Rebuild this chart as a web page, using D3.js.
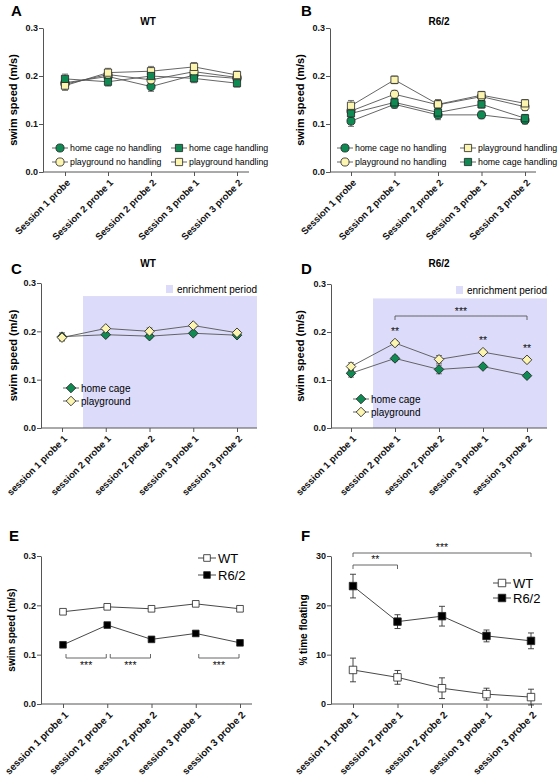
<!DOCTYPE html>
<html><head><meta charset="utf-8">
<script src="https://cdn.jsdelivr.net/npm/d3@7"></script>
<style>
body{margin:0;background:#fff;}
svg{font-family:"Liberation Sans",Arial,sans-serif;}
</style></head>
<body><svg id="c" width="560" height="782"></svg>
<script>
// ---------------- DATA ----------------
const probesCap = ["Session 1 probe","Session 2 probe 1","Session 2 probe 2","Session 3 probe 1","Session 3 probe 2"];
const probesLow = ["session 1 probe 1","session 2 probe 1","session 2 probe 2","session 3 probe 1","session 3 probe 2"];
const speedTicks = [0,0.1,0.2,0.3];
const floatTicks = [0,10,20,30];

// Panel A (WT)
const aHomeNoHand = [0.186,0.199,0.178,0.202,0.195];
const aHomeHand   = [0.194,0.188,0.200,0.195,0.185];
const aPlayNoHand = [0.183,0.203,0.192,0.209,0.197];
const aPlayHand   = [0.180,0.207,0.210,0.219,0.202];
const aErr        = [0.010,0.009,0.010,0.009,0.008];
// Panel B (R6/2)
const bHomeNoHand = [0.106,0.141,0.119,0.119,0.108];
const bHomeHand   = [0.122,0.145,0.124,0.141,0.112];
const bPlayNoHand = [0.127,0.162,0.140,0.157,0.136];
const bPlayHand   = [0.138,0.192,0.141,0.160,0.143];
const bErr        = [0.011,0.008,0.010,0.008,0.008];
// Panel C (WT)
const cHome = [0.189,0.193,0.190,0.196,0.192];
const cPlay = [0.187,0.206,0.200,0.212,0.197];
const cHomeErr = [0.008,0.004,0.004,0.004,0.004];
const cPlayErr = [0.007,0.004,0.007,0.004,0.004];
// Panel D (R6/2)
const dHome = [0.114,0.145,0.122,0.128,0.109];
const dPlay = [0.128,0.177,0.143,0.158,0.142];
const dHomeErr = [0.008,0.005,0.009,0.004,0.004];
const dPlayErr = [0.008,0.005,0.008,0.004,0.004];
const dStars = ["","**","","**","**"];
// Panel E
const eWT  = [0.187,0.197,0.193,0.203,0.193];
const eR62 = [0.120,0.160,0.131,0.143,0.124];
// Panel F
const fWT     = [6.9,5.4,3.2,2.0,1.4];
const fWTErr  = [2.4,1.4,2.1,1.2,1.6];
const fR62    = [23.9,16.7,17.8,13.8,12.8];
const fR62Err = [2.4,1.4,2.0,1.2,1.6];

// ---------------- STYLE ----------------
const GREEN = "#0e8a52", YELLOW = "#fcf5b0", SHADE = "#dcdcfa";
const AX = "#555", LINE = "#555";
const svg = d3.select("#c");

function symPath(type, size){
  if(type==="circle") return d3.symbol(d3.symbolCircle, size)();
  return d3.symbol(d3.symbolSquare, size)();
}
function drawMarker(g, type, x, y, size, fill, stroke){
  g.append("path").attr("d", symPath(type, size))
    .attr("transform", `translate(${x},${y})` + (type==="diamond" ? " rotate(45)" : ""))
    .attr("fill", fill).attr("stroke", stroke||"#222").attr("stroke-width", 0.8);
}
function stars(g, x, y, t){
  g.append("text").attr("x", x).attr("y", y).attr("text-anchor","middle")
    .attr("font-size", 10.5).attr("fill","#111").attr("stroke","none").text(t);
}

function makePanel(o){
  const g = svg.append("g");
  const x = d3.scalePoint().domain(d3.range(5)).range([o.x0, o.x1]);
  const y = d3.scaleLinear().domain([0, o.ymax]).range([o.yb, o.yt]);
  if(o.shade){
    g.append("rect").attr("x", o.shade[0]).attr("width", o.shade[1]-o.shade[0])
      .attr("y", y(o.shadeTop)).attr("height", o.yb - y(o.shadeTop)).attr("fill", SHADE);
    g.append("rect").attr("x", o.shadeLeg[0]).attr("y", o.shadeLeg[1]-4).attr("width", 7).attr("height", 8).attr("fill", SHADE);
    g.append("text").attr("x", o.shadeLeg[0]+11).attr("y", o.shadeLeg[1]+3.5)
      .attr("font-size", 10).text("enrichment period");
  }
  // y axis
  const ya = g.append("g").attr("transform", `translate(${o.ax},0)`)
    .call(d3.axisLeft(y).tickValues(o.yticks).tickFormat(o.yfmt).tickSize(4).tickSizeOuter(0));
  ya.select(".domain").attr("stroke", AX);
  ya.selectAll(".tick line").attr("stroke", AX);
  ya.selectAll(".tick text").attr("font-weight","bold").attr("font-size", 9).attr("fill","#111").attr("x",-5);
  // x axis
  const xa = g.append("g").attr("transform", `translate(0,${o.yb})`)
    .call(d3.axisBottom(x).tickSize(4).tickFormat(i => o.labels[i]));
  xa.select(".domain").remove();
  xa.append("line").attr("x1", o.ax).attr("x2", o.xend).attr("stroke", AX);
  xa.selectAll(".tick line").attr("stroke", AX);
  xa.selectAll(".tick text").attr("font-weight","bold").attr("font-size", o.lblSize).attr("fill","#111")
    .attr("text-anchor","end").attr("y",0).attr("dy","0.35em")
    .attr("transform", `translate(3,${o.lblOff}) rotate(-45)`);
  // y title
  g.append("text").attr("transform", `translate(${o.ytx},${(o.yb+o.yt)/2}) rotate(-90)`)
    .attr("text-anchor","middle").attr("font-weight","bold").attr("font-size", o.ytSize).text(o.ytitle);
  // panel letter
  g.append("text").attr("x", o.letter[0]).attr("y", o.letter[1]).attr("font-weight","bold")
    .attr("font-size", 15).text(o.letterText);
  if(o.title) g.append("text").attr("x", o.title[0]).attr("y", o.title[1]).attr("text-anchor","middle")
    .attr("font-weight","bold").attr("font-size", 10).text(o.titleText);
  // series
  o.series.forEach(s => {
    const line = d3.line().x((d,i)=>x(i)).y(d=>y(d));
    g.append("path").attr("d", line(s.vals)).attr("fill","none").attr("stroke", o.lineCol||LINE).attr("stroke-width", 0.9);
  });
  o.series.forEach(s => {
    if(s.err){
      s.vals.forEach((v,i)=>{
        const e = s.err[i], cx = x(i);
        g.append("path").attr("d", `M${cx},${y(v-e)}V${y(v+e)}M${cx-3},${y(v-e)}H${cx+3}M${cx-3},${y(v+e)}H${cx+3}`)
          .attr("stroke", o.errCol||"#666").attr("stroke-width", 0.9).attr("fill","none");
      });
    }
  });
  o.series.forEach(s => {
    s.vals.forEach((v,i)=> drawMarker(g, s.type, x(i), y(v), o.msize, s.fill));
  });
  // legend
  o.legend.forEach(l => {
    g.append("line").attr("x1", l.x-o.legLine).attr("x2", l.x+o.legLine).attr("y1", l.y).attr("y2", l.y)
      .attr("stroke", o.lineCol||LINE).attr("stroke-width",0.9);
    drawMarker(g, l.type, l.x, l.y, o.msize, l.fill);
    g.append("text").attr("x", l.x+o.legLine+2).attr("y", l.y+o.legFs*0.36).attr("font-size", o.legFs).text(l.text);
  });
  return {g, x, y};
}

// ---------------- PANELS ----------------
const fmt1 = d3.format(".1f");
makePanel({x0:65,x1:237,ax:43,xend:249,yb:172,yt:28,ymax:0.3,yticks:speedTicks,yfmt:fmt1,
  labels:probesCap,lblSize:9.5,lblOff:9,ytx:17,ytSize:11,ytitle:"swim speed (m/s)",
  letter:[11,16],letterText:"A",title:[148,25],titleText:"WT",msize:52,legLine:8,legFs:8.8,
  series:[
    {vals:aHomeNoHand,err:aErr,type:"circle",fill:GREEN},
    {vals:aPlayNoHand,err:aErr,type:"circle",fill:YELLOW},
    {vals:aPlayHand,err:aErr,type:"square",fill:YELLOW},
    {vals:aHomeHand,err:aErr,type:"square",fill:GREEN}],
  legend:[
    {x:60,y:148,type:"circle",fill:GREEN,text:"home cage no handling"},
    {x:60,y:162,type:"circle",fill:YELLOW,text:"playground no handling"},
    {x:179,y:148,type:"square",fill:GREEN,text:"home cage handling"},
    {x:179,y:162,type:"square",fill:YELLOW,text:"playground handling"}]});

makePanel({x0:351,x1:525,ax:330,xend:536,yb:172,yt:28,ymax:0.3,yticks:speedTicks,yfmt:fmt1,
  labels:probesCap,lblSize:9.5,lblOff:9,ytx:304,ytSize:11,ytitle:"swim speed (m/s)",
  letter:[301,16],letterText:"B",title:[439,25],titleText:"R6/2",msize:52,legLine:8,legFs:8.8,
  series:[
    {vals:bHomeNoHand,err:bErr,type:"circle",fill:GREEN},
    {vals:bPlayNoHand,err:bErr,type:"circle",fill:YELLOW},
    {vals:bHomeHand,err:bErr,type:"square",fill:GREEN},
    {vals:bPlayHand,err:bErr,type:"square",fill:YELLOW}],
  legend:[
    {x:345,y:148,type:"circle",fill:GREEN,text:"home cage no handling"},
    {x:345,y:162,type:"circle",fill:YELLOW,text:"playground no handling"},
    {x:468,y:148,type:"square",fill:YELLOW,text:"playground handling"},
    {x:468,y:162,type:"square",fill:GREEN,text:"home cage handling"}]});

makePanel({x0:62,x1:237,ax:41,xend:257,yb:428,yt:283,ymax:0.3,yticks:speedTicks,yfmt:fmt1,
  labels:probesLow,lblSize:9.5,lblOff:9,ytx:17,ytSize:11,ytitle:"swim speed (m/s)",
  letter:[11,274],letterText:"C",title:[148,267],titleText:"WT",msize:46,legLine:8,legFs:10,
  shade:[83,257],shadeTop:0.273,shadeLeg:[166,289],
  series:[
    {vals:cHome,err:cHomeErr,type:"diamond",fill:GREEN},
    {vals:cPlay,err:cPlayErr,type:"diamond",fill:YELLOW}],
  legend:[
    {x:71,y:388,type:"diamond",fill:GREEN,text:"home cage"},
    {x:71,y:401,type:"diamond",fill:YELLOW,text:"playground"}]});

const D = makePanel({x0:351,x1:527,ax:331,xend:547,yb:428,yt:284,ymax:0.3,yticks:speedTicks,yfmt:fmt1,
  labels:probesLow,lblSize:9.5,lblOff:9,ytx:304,ytSize:11,ytitle:"swim speed (m/s)",
  letter:[301,274],letterText:"D",title:[439,267],titleText:"R6/2",msize:46,legLine:8,legFs:10,
  shade:[373,547],shadeTop:0.27,shadeLeg:[456,290],
  series:[
    {vals:dHome,err:dHomeErr,type:"diamond",fill:GREEN},
    {vals:dPlay,err:dPlayErr,type:"diamond",fill:YELLOW}],
  legend:[
    {x:361,y:399,type:"diamond",fill:GREEN,text:"home cage"},
    {x:361,y:412,type:"diamond",fill:YELLOW,text:"playground"}]});
dStars.forEach((s,i)=>{ if(s) stars(D.g, D.x(i), D.y(dPlay[i])-8, s); });
{
  const yb = 316, xa = D.x(1), xb = D.x(4);
  D.g.append("path").attr("d",`M${xa},${yb+4}V${yb}H${xb}V${yb+4}`).attr("fill","none").attr("stroke","#555").attr("stroke-width",0.9);
  stars(D.g, (xa+xb)/2, yb-1, "***");
}

const E = makePanel({x0:63,x1:240,ax:41,xend:252,yb:704,yt:556,ymax:0.3,yticks:speedTicks,yfmt:fmt1,
  labels:probesLow,lblSize:10,lblOff:9,ytx:15,ytSize:10,ytitle:"swim speed (m/s)",
  letter:[9,541],letterText:"E",title:null,msize:44,legLine:9,legFs:13,lineCol:"#333",
  series:[
    {vals:eWT,type:"square",fill:"#fff"},
    {vals:eR62,type:"square",fill:"#000"}],
  legend:[
    {x:207,y:558,type:"square",fill:"#fff",text:"WT"},
    {x:207,y:575,type:"square",fill:"#000",text:"R6/2"}]});
[[0,1],[1,2],[3,4]].forEach(([a,b])=>{
  const yb = 658, xa = E.x(a)+3, xb = E.x(b)-1;
  E.g.append("path").attr("d",`M${xa},${yb-4}V${yb}H${xb}V${yb-4}`).attr("fill","none").attr("stroke","#555").attr("stroke-width",0.9);
  stars(E.g, (xa+xb)/2, yb+11, "***");
});

const F = makePanel({x0:353,x1:531,ax:331,xend:542,yb:704,yt:556,ymax:30,yticks:floatTicks,yfmt:d3.format("d"),
  labels:probesLow,lblSize:10,lblOff:9,ytx:307,ytSize:10,ytitle:"% time floating",
  letter:[301,541],letterText:"F",title:null,msize:56,legLine:9,legFs:13,lineCol:"#333",errCol:"#333",
  series:[
    {vals:fWT,err:fWTErr,type:"square",fill:"#fff"},
    {vals:fR62,err:fR62Err,type:"square",fill:"#000"}],
  legend:[
    {x:502,y:583,type:"square",fill:"#fff",text:"WT"},
    {x:502,y:598,type:"square",fill:"#000",text:"R6/2"}]});
[[0,4,553,"***"],[0,1,565,"**"]].forEach(([a,b,yb,t])=>{
  const xa = F.x(a), xb = F.x(b);
  F.g.append("path").attr("d",`M${xa},${yb+4}V${yb}H${xb}V${yb+4}`).attr("fill","none").attr("stroke","#555").attr("stroke-width",0.9);
  stars(F.g, (xa+xb)/2, yb-2, t);
});
</script></body></html>
